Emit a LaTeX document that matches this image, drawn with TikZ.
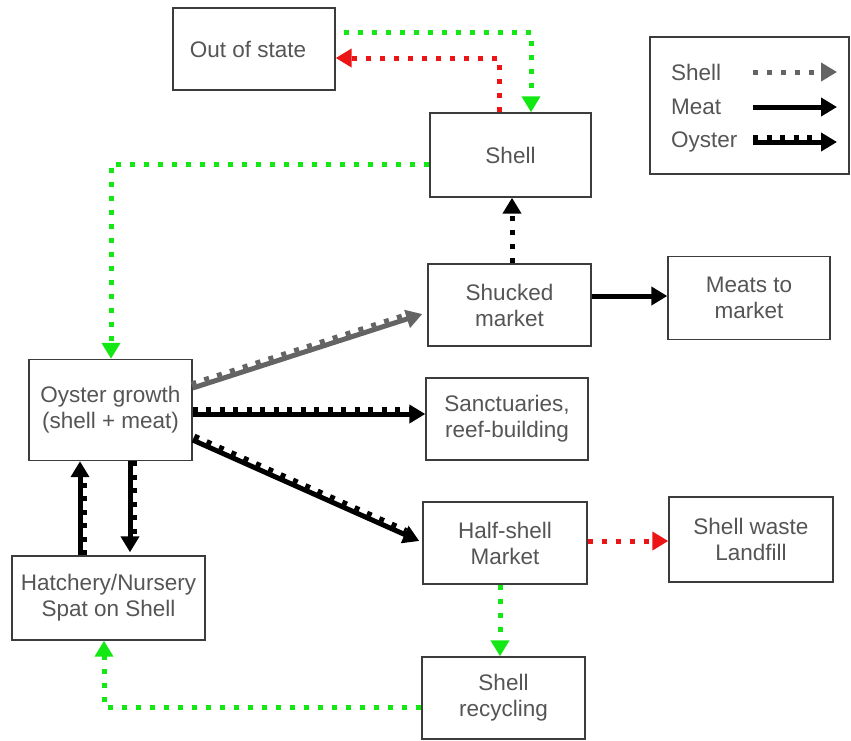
\documentclass[tikz,border=0pt]{standalone}
\usepackage{fontspec}
\setmainfont{Liberation Sans}
\usetikzlibrary{arrows.meta,calc}
\definecolor{sgreen}{RGB}{20,232,20}
\definecolor{sred}{RGB}{236,20,20}
\definecolor{sgray}{RGB}{100,100,100}
\definecolor{txtgray}{RGB}{85,85,85}
\definecolor{boxgray}{RGB}{60,60,60}
\tikzset{
  box/.style={draw=boxgray, line width=1.4pt, fill=white, text=txtgray, align=center,
    inner sep=0pt, font=\fontsize{22.5}{26}\selectfont},
  tip/.style={-{Triangle[length=16pt,width=18pt]}},
  shellarr/.style={tip, line width=5pt, dash pattern=on 5pt off 9pt},
  meatarr/.style={tip, line width=5pt, black},
  legtext/.style={anchor=west, text=txtgray, inner sep=0pt, font=\fontsize{22.5}{26}\selectfont},
}
\newcommand{\oysterarrow}[4][black]{%
  \coordinate (oA) at (#2);
  \coordinate (oB) at (#3);
  \coordinate (oBp) at ($(oB)!16pt!(oA)$);
  \draw[tip, line width=5pt, #1] (oA) -- (oB);
  \draw[line width=4.5pt, #1, dash pattern=on 5pt off 8.5pt]
    ($(oA)!4.5pt!#4:(oBp)$) -- ($(oBp)!4.5pt!-#4:(oA)$);
}
\begin{document}
\begin{tikzpicture}[x=1pt,y=-1pt]
\useasboundingbox (0,0) rectangle (851,740);
% nodes
\node[box, minimum width=162pt, minimum height=82pt] (outstate) at (254,49) {Out of state\hspace*{12pt}};
\node[box, minimum width=161pt, minimum height=84pt] (shell) at (510.5,155) {Shell};
\node[box, minimum width=163pt, minimum height=82pt] (shucked) at (509.5,305) {Shucked\\market};
\node[box, minimum width=162pt, minimum height=83pt] (meats) at (749,298) {Meats to\\market};
\node[box, minimum width=163pt, minimum height=101pt] (growth) at (110.5,410) {Oyster growth\\(shell + meat)};
\node[box, minimum width=162pt, minimum height=82pt] (sanct) at (507,419) {Sanctuaries,\\reef-building};
\node[box, minimum width=164pt, minimum height=82pt] (half) at (505,543) {Half-shell\\Market};
\node[box, minimum width=164pt, minimum height=85pt] (landfill) at (751,539.5) {Shell waste\\Landfill};
\node[box, minimum width=163pt, minimum height=82pt] (recyc) at (503.5,698) {Shell\\recycling};
\node[box, minimum width=193pt, minimum height=84pt] (hatch) at (108.5,598) {Hatchery/Nursery\\Spat on Shell};
% legend
\node[box, minimum width=199pt, minimum height=137pt] (legend) at (749.5,105.5) {};
\node[legtext] (lshell) at (671,72) {Shell};
\node[legtext] (lmeat) at (671,107) {Meat};
\node[legtext] (loyster) at (671,142) {Oyster};
\coordinate (ls1) at (753,72);  \coordinate (ls2) at (837,72);
\coordinate (lm1) at (753,107); \coordinate (lm2) at (837,107);
\coordinate (lo1) at (753,142); \coordinate (lo2) at (837,142);
\draw[shellarr, sgray] (ls1) -- (ls2);
\draw[meatarr] (lm1) -- (lm2);
\oysterarrow{lo1}{lo2}{90}
% shell flows
\draw[shellarr, sgreen] ($(outstate.east |- 0,32)+(8,0)$) -| (531,0 |- shell.north);
\draw[shellarr, sred] (499,0 |- shell.north) |- (outstate.east |- 0,58);
\draw[shellarr, sgreen] (shell.west |- 0,164) -| (111,0 |- growth.north);
\draw[shellarr, black] (512,0 |- shucked.north) -- (512,0 |- shell.south);
\draw[shellarr, sred] (half.east |- 0,541) -- (landfill.west |- 0,541);
\draw[shellarr, sgreen] (500,0 |- half.south) -- (500,0 |- recyc.north);
\draw[shellarr, sgreen] (recyc.west |- 0,707) -| (104,0 |- hatch.south);
% meat
\draw[meatarr] (shucked.east |- 0,296) -- (meats.west |- 0,296);
% oyster flows
\oysterarrow[sgray]{growth.east |- 0,388}{$(shucked.west |- 0,314)+(-5,0)$}{90}
\oysterarrow{growth.east |- 0,414}{sanct.west |- 0,414}{90}
\oysterarrow{growth.east |- 0,440}{$(half.west |- 0,541)+(-3,0)$}{90}
\oysterarrow{80,0 |- hatch.north}{80,0 |- growth.south}{-90}
\oysterarrow{130,0 |- growth.south}{$(130,0 |- hatch.north)+(0,-3)$}{90}
\end{tikzpicture}
\end{document}
